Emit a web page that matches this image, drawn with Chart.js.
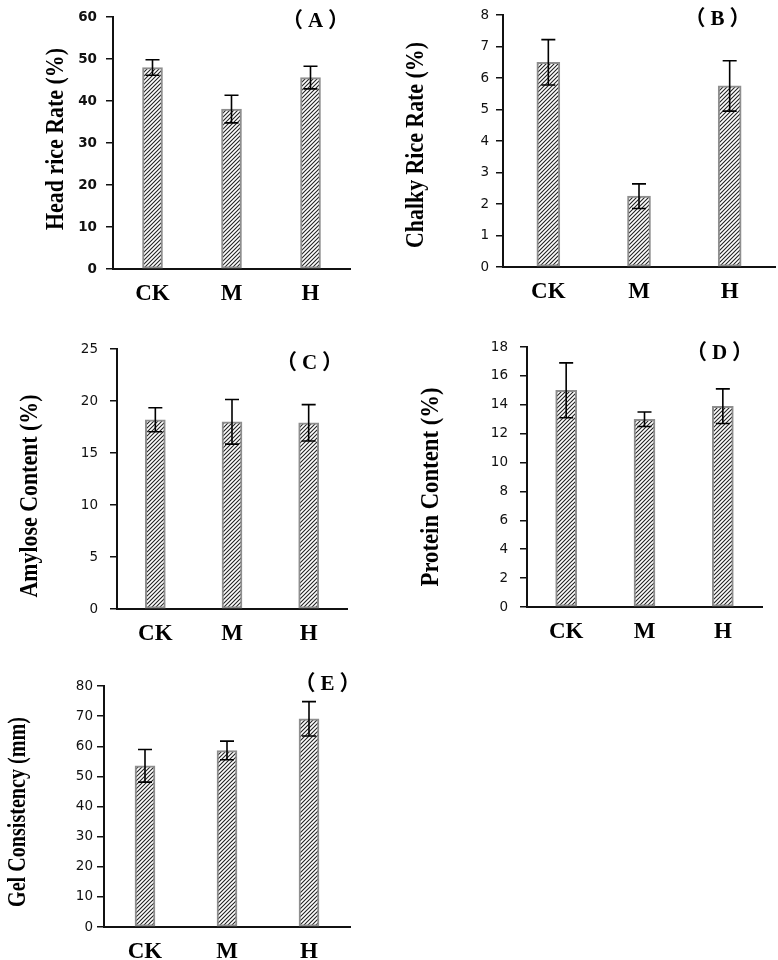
<!DOCTYPE html>
<html>
<head>
<meta charset="utf-8">
<script src="https://cdn.jsdelivr.net/npm/chart.js@4.4.1/dist/chart.umd.min.js"></script>
<style>
  body { margin: 0; background: #fff; }
  #wrap { position: relative; width: 778px; height: 960px; }
  canvas { position: absolute; }
</style>
</head>
<body>
<div id="wrap"></div>
<script>
// data
const categories = ['CK', 'M', 'H'];
const headRice = [48.0, 38.1, 45.6];
const headRiceErr = [1.85, 3.3, 2.7];
const chalkyRice = [6.5, 2.25, 5.75];
const chalkyRiceErr = [0.72, 0.39, 0.8];
const amylose = [18.2, 18.0, 17.9];
const amyloseErr = [1.15, 2.15, 1.75];
const protein = [15.0, 13.0, 13.9];
const proteinErr = [1.9, 0.5, 1.2];
const gel = [53.5, 58.6, 69.1];
const gelErr = [5.4, 3.1, 5.7];

const yTitles = ['Head rice Rate (%)', 'Chalky Rice Rate (%)', 'Amylose Content (%)', 'Protein Content (%)', 'Gel Consistency (mm)'];
const panelLabels = ['（A）', '（B）', '（C）', '（D）', '（E）'];
const yMax = [60, 8, 25, 18, 80];
const yStep = [10, 1, 5, 2, 10];

// page layout of each panel (canvas box, plot area, text spots)
const panels = [
  { values: headRice, errors: headRiceErr, box: [0, 0, 390, 315], area: [113, 11, 350, 269],
    bar: 20, tickBold: true, tickPad: 9, titleX: 63, titleY: 139, titleLen: 182, labelX: 316, labelY: 22 },
  { values: chalkyRice, errors: chalkyRiceErr, box: [390, 0, 388, 315], area: [503, 8, 775, 267],
    bar: 23, tickBold: false, tickPad: 7, titleX: 423, titleY: 145, titleLen: 206, labelX: 718, labelY: 20 },
  { values: amylose, errors: amyloseErr, box: [0, 315, 390, 330], area: [117, 349, 347, 609],
    bar: 20, tickBold: false, tickPad: 12, titleX: 37, titleY: 496, titleLen: 203, labelX: 310, labelY: 364 },
  { values: protein, errors: proteinErr, box: [390, 315, 388, 330], area: [527, 347, 762, 607],
    bar: 21, tickBold: false, tickPad: 12, titleX: 438, titleY: 487, titleLen: 199, labelX: 720, labelY: 354 },
  { values: gel, errors: gelErr, box: [0, 645, 390, 315], area: [104, 686, 350, 927],
    bar: 20, tickBold: false, tickPad: 4, titleX: 25, titleY: 812, titleLen: 190, labelX: 328, labelY: 685 }
];

function hatch() {
  const c = document.createElement('canvas');
  c.width = 4; c.height = 4;
  const g = c.getContext('2d');
  g.fillStyle = '#fff';
  g.fillRect(0, 0, 4, 4);
  g.strokeStyle = '#222';
  g.lineWidth = 1.1;
  g.beginPath();
  g.moveTo(0, 4); g.lineTo(4, 0);
  g.moveTo(-1, 1); g.lineTo(1, -1);
  g.moveTo(3, 5); g.lineTo(5, 3);
  g.stroke();
  return g.createPattern(c, 'repeat');
}

// error bars + rotated y title + panel letter
const extras = {
  id: 'extras',
  afterDatasetsDraw(chart, args, o) {
    const ctx = chart.ctx;
    const ys = chart.scales.y;
    const meta = chart.getDatasetMeta(0);
    ctx.save();
    ctx.strokeStyle = '#000';
    ctx.lineWidth = 1.6;
    meta.data.forEach((el, i) => {
      const v = o.values[i], e = o.errors[i];
      const top = ys.getPixelForValue(v + e);
      const bot = ys.getPixelForValue(v - e);
      const x = el.x;
      ctx.beginPath();
      ctx.moveTo(x, top); ctx.lineTo(x, bot);
      ctx.moveTo(x - 7, top); ctx.lineTo(x + 7, top);
      ctx.moveTo(x - 7, bot); ctx.lineTo(x + 7, bot);
      ctx.stroke();
    });
    ctx.restore();
  },
  afterDraw(chart, args, o) {
    const ctx = chart.ctx;
    ctx.save();
    ctx.fillStyle = '#000';
    ctx.font = 'bold 25px "Liberation Serif"';
    const w = ctx.measureText(o.title).width;
    ctx.translate(o.titleX, o.titleY);
    ctx.rotate(-Math.PI / 2);
    ctx.scale(o.titleLen / w, 1);
    ctx.textAlign = 'center';
    ctx.textBaseline = 'alphabetic';
    ctx.fillText(o.title, 0, 0);
    ctx.restore();

    ctx.save();
    ctx.fillStyle = '#000';
    ctx.font = 'bold 21px "Liberation Serif", "Noto Sans CJK SC"';
    ctx.letterSpacing = '5px';
    ctx.textAlign = 'center';
    ctx.textBaseline = 'middle';
    ctx.fillText(o.label, o.labelX + 2, o.labelY);
    ctx.restore();
  }
};

const wrap = document.getElementById('wrap');
const pattern = hatch();

panels.forEach((p, k) => {
  const [bx, by, bw, bh] = p.box;
  const [l, t, r, b] = p.area;
  const cv = document.createElement('canvas');
  cv.width = bw; cv.height = bh;
  cv.style.left = bx + 'px'; cv.style.top = by + 'px';
  wrap.appendChild(cv);

  new Chart(cv, {
    type: 'bar',
    data: {
      labels: categories,
      datasets: [{
        data: p.values,
        backgroundColor: pattern,
        borderColor: '#8e8e8e',
        borderWidth: 2,
        borderSkipped: false,
        barThickness: p.bar
      }]
    },
    options: {
      responsive: false,
      animation: false,
      devicePixelRatio: 1,
      layout: { padding: { left: 0, top: t - by, right: bx + bw - r, bottom: 0 } },
      plugins: {
        legend: { display: false },
        tooltip: { enabled: false },
        extras: {
          values: p.values, errors: p.errors,
          title: yTitles[k], titleX: p.titleX - bx, titleY: p.titleY - by, titleLen: p.titleLen,
          label: panelLabels[k], labelX: p.labelX - bx, labelY: p.labelY - by
        }
      },
      scales: {
        x: {
          grid: { display: false, drawTicks: false },
          border: { color: '#111', width: 2 },
          ticks: {
            color: '#000',
            padding: 11,
            font: { family: '"Liberation Serif"', size: 23, weight: 'bold' }
          },
          afterFit(s) { s.height = by + bh - b; }
        },
        y: {
          min: 0,
          max: yMax[k],
          ticks: {
            stepSize: yStep[k],
            color: '#111',
            padding: p.tickPad,
            font: { family: '"DejaVu Sans"', size: 13.5, weight: p.tickBold ? 'bold' : 'normal' }
          },
          grid: { drawOnChartArea: false, drawTicks: true, tickLength: 7, color: '#111', lineWidth: 1.5 },
          border: { color: '#111', width: 2 },
          afterFit(s) { s.width = l - bx; }
        }
      }
    },
    plugins: [extras]
  });
});
</script>
</body>
</html>
